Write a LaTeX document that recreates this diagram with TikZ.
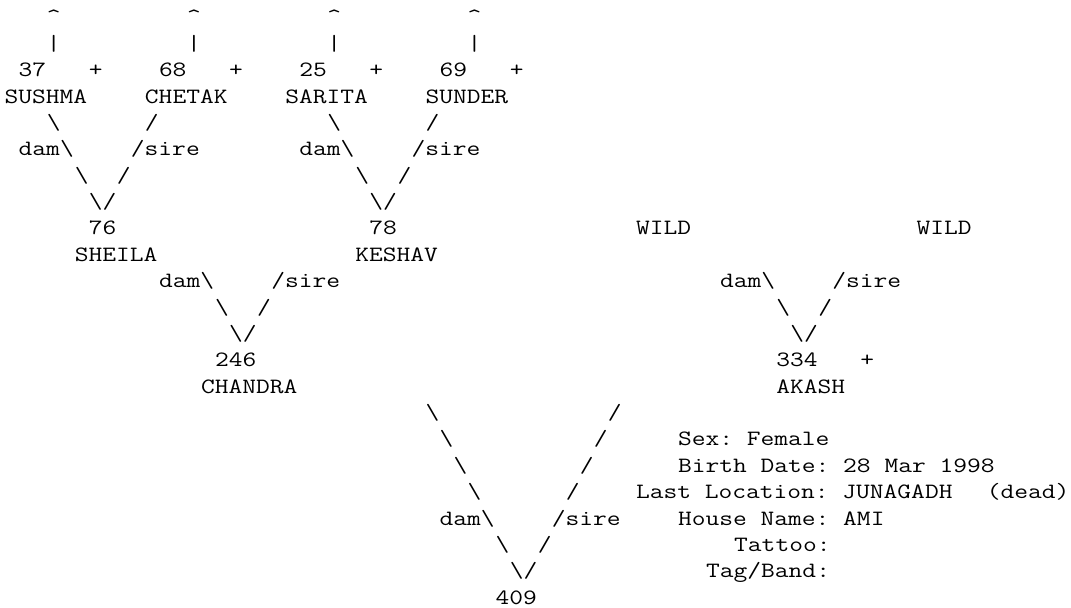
\documentclass[tikz,border=0pt]{standalone}
\usepackage{fontspec}
\usepackage{tikz}

% typewriter cells widened to the width of the printout
\newsavebox\cellbox

\begin{document}
\begin{tikzpicture}[
    x=14.03pt, y=-26.37pt,
    txt/.style={anchor=base west, inner sep=0pt, font=\ttfamily\fontsize{21.85}{26.37}\selectfont\frenchspacing,
        execute at begin node={\setbox\cellbox=\hbox\bgroup},
        execute at end node={\egroup\scalebox{1.223}[1]{\usebox\cellbox}}}
]
    \useasboundingbox (-0.32,-0.91) rectangle (76.02,22.11);

    % founders, pointing further up
    \node[txt] (up37) at (3,0) {\textasciicircum};
    \node[txt] (up68) at (13,0) {\textasciicircum};
    \node[txt] (up25) at (23,0) {\textasciicircum};
    \node[txt] (up69) at (33,0) {\textasciicircum};
    \node[txt] (bar37) at (3,1) {\textbar};
    \node[txt] (bar68) at (13,1) {\textbar};
    \node[txt] (bar25) at (23,1) {\textbar};
    \node[txt] (bar69) at (33,1) {\textbar};
    \node[txt] (id37) at (1,2) {37};
    \node[txt] (plus37) at (6,2) {+};
    \node[txt] (id68) at (11,2) {68};
    \node[txt] (plus68) at (16,2) {+};
    \node[txt] (id25) at (21,2) {25};
    \node[txt] (plus25) at (26,2) {+};
    \node[txt] (id69) at (31,2) {69};
    \node[txt] (plus69) at (36,2) {+};
    \node[txt] (sushma) at (0,3) {SUSHMA};
    \node[txt] (chetak) at (10,3) {CHETAK};
    \node[txt] (sarita) at (20,3) {SARITA};
    \node[txt] (sunder) at (30,3) {SUNDER};

    % parents of 76 and 78
    \node[txt] (d76a) at (3,4) {\textbackslash};
    \node[txt] (s76a) at (10,4) {/};
    \node[txt] (d78a) at (23,4) {\textbackslash};
    \node[txt] (s78a) at (30,4) {/};
    \node[txt] (d76b) at (1,5) {dam\textbackslash};
    \node[txt] (s76b) at (9,5) {/sire};
    \node[txt] (d78b) at (21,5) {dam\textbackslash};
    \node[txt] (s78b) at (29,5) {/sire};
    \node[txt] (d76c) at (5,6) {\textbackslash};
    \node[txt] (s76c) at (8,6) {/};
    \node[txt] (d78c) at (25,6) {\textbackslash};
    \node[txt] (s78c) at (28,6) {/};
    \node[txt] (v76) at (6,7) {\textbackslash/};
    \node[txt] (v78) at (26,7) {\textbackslash/};
    \node[txt] (id76) at (6,8) {76};
    \node[txt] (id78) at (26,8) {78};
    \node[txt] (wild1) at (45,8) {WILD};
    \node[txt] (wild2) at (65,8) {WILD};
    \node[txt] (sheila) at (5,9) {SHEILA};
    \node[txt] (keshav) at (25,9) {KESHAV};

    % parents of 246 and 334
    \node[txt] (d246a) at (11,10) {dam\textbackslash};
    \node[txt] (s246a) at (19,10) {/sire};
    \node[txt] (d334a) at (51,10) {dam\textbackslash};
    \node[txt] (s334a) at (59,10) {/sire};
    \node[txt] (d246b) at (15,11) {\textbackslash};
    \node[txt] (s246b) at (18,11) {/};
    \node[txt] (d334b) at (55,11) {\textbackslash};
    \node[txt] (s334b) at (58,11) {/};
    \node[txt] (v246) at (16,12) {\textbackslash/};
    \node[txt] (v334) at (56,12) {\textbackslash/};
    \node[txt] (id246) at (15,13) {246};
    \node[txt] (id334) at (55,13) {334};
    \node[txt] (plus334) at (61,13) {+};
    \node[txt] (chandra) at (14,14) {CHANDRA};
    \node[txt] (akash) at (55,14) {AKASH};

    % parents of 409
    \node[txt] (d409a) at (30,15) {\textbackslash};
    \node[txt] (s409a) at (43,15) {/};
    \node[txt] (d409b) at (31,16) {\textbackslash};
    \node[txt] (s409b) at (42,16) {/};
    \node[txt] (d409c) at (32,17) {\textbackslash};
    \node[txt] (s409c) at (41,17) {/};
    \node[txt] (d409d) at (33,18) {\textbackslash};
    \node[txt] (s409d) at (40,18) {/};
    \node[txt] (d409e) at (31,19) {dam\textbackslash};
    \node[txt] (s409e) at (39,19) {/sire};
    \node[txt] (d409f) at (35,20) {\textbackslash};
    \node[txt] (s409f) at (38,20) {/};
    \node[txt] (v409) at (36,21) {\textbackslash/};
    \node[txt] (id409) at (35,22) {409};

    % record of 409
    \node[txt] (sex) at (48,16) {Sex: Female};
    \node[txt] (birth) at (48,17) {Birth Date: 28 Mar 1998};
    \node[txt] (loc) at (45,18) {Last Location: JUNAGADH};
    \node[txt] (dead) at (70,18) {(dead)};
    \node[txt] (house) at (48,19) {House Name: AMI};
    \node[txt] (tattoo) at (52,20) {Tattoo:};
    \node[txt] (tag) at (50,21) {Tag/Band:};

\end{tikzpicture}
\end{document}
